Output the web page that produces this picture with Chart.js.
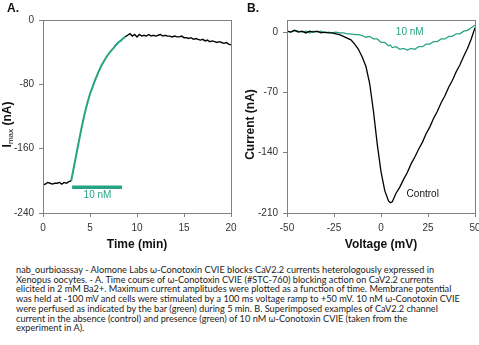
<!DOCTYPE html>
<html>
<head>
<meta charset="utf-8">
<script src="https://cdn.jsdelivr.net/npm/chart.js@4/dist/chart.umd.min.js"></script>
<style>
  html, body { margin: 0; padding: 0; background: #fff; width: 479px; height: 345px; overflow: hidden; }
  #wrapA { position: absolute; left: 0; top: 0; width: 240px; height: 260px; }
  #wrapB { position: absolute; left: 240px; top: 0; width: 239px; height: 260px; }
  #caption { position: absolute; left: 16px; top: 265px; font-family: Lato, "Open Sans", sans-serif;
             font-size: 9.2px; line-height: 9.7px; color: #222; white-space: nowrap; }
</style>
</head>
<body>
<div id="wrapA"><canvas id="chartA" width="240" height="260"></canvas></div>
<div id="wrapB"><canvas id="chartB" width="239" height="260"></canvas></div>
<div id="caption">
  <div>nab_ourbioassay - Alomone Labs ω-Conotoxin CVIE blocks CaV2.2 currents heterologously expressed in</div>
  <div>Xenopus oocytes. - A. Time course of ω-Conotoxin CVIE (#STC-760) blocking action on CaV2.2 currents</div>
  <div>elicited in 2 mM Ba2+. Maximum current amplitudes were plotted as a function of time. Membrane potential</div>
  <div>was held at -100 mV and cells were stimulated by a 100 ms voltage ramp to +50 mV. 10 nM ω-Conotoxin CVIE</div>
  <div>were perfused as indicated by the bar (green) during 5 min. B. Superimposed examples of CaV2.2 channel</div>
  <div>current in the absence (control) and presence (green) of 10 nM ω-Conotoxin CVIE (taken from the</div>
  <div>experiment in A).</div>
</div>
<script>
// ---- Panel A: time course of Imax (min, nA) ----
const baselineTime = [0, 0.25, 0.5, 0.75, 1.0, 1.25, 1.5, 1.75, 2.0, 2.25, 2.5, 2.75, 3.0];
const baselineImax = [-205, -204, -202, -203, -204, -203, -203, -202, -204, -202, -203, -201, -200];

const toxinTime = [3.0, 3.25, 3.5, 3.75, 4.0, 4.25, 4.5, 4.75, 5.0, 5.25, 5.5, 5.75, 6.0, 6.25,
                   6.5, 6.75, 7.0, 7.25, 7.5, 7.75, 8.0, 8.25, 8.5, 8.75];
const toxinImax = [-200, -185, -170, -155, -140, -126, -113, -102, -92, -84, -76, -69, -62, -56,
                   -51, -46, -42, -38, -35, -31, -28, -26, -23, -21];

const washTime = [8.75, 9.0, 9.25, 9.5, 9.75, 10.0, 10.25, 10.5, 10.75, 11.0, 11.25, 11.5, 11.75,
                  12.0, 12.25, 12.5, 12.75, 13.0, 13.25, 13.5, 13.75, 14.0, 14.25, 14.5, 14.75,
                  15.0, 15.25, 15.5, 15.75, 16.0, 16.25, 16.5, 16.75, 17.0, 17.25, 17.5, 17.75,
                  18.0, 18.25, 18.5, 18.75, 19.0, 19.25, 19.5, 19.75, 20.0];
const washImax = [-21, -19, -17, -20, -18, -21, -18, -20, -19, -20, -18, -20, -19,
                  -20, -19, -18, -20, -19, -20, -20, -21, -20, -21, -21, -20,
                  -22, -22, -23, -22, -24, -23, -24, -25, -24, -26, -25, -27,
                  -26, -27, -28, -27, -28, -29, -28, -30, -31];

// application bar: 10 nM during 5 min
const barTime = [3.1, 8.4];
const barLevel = [-208, -208];

const timeTicks = [0, 5, 10, 15, 20];
const imaxTicks = [-240, -160, -80, 0];

// ---- Panel B: ramp currents (mV, nA) ----
const voltage = [-50, -48, -46, -44, -42, -40, -38, -36, -34, -32, -30, -28, -26, -24, -22, -20,
                 -18, -16, -14, -12, -10, -8, -6, -4, -2, 0, 2, 4, 5, 6, 8, 10, 12, 14, 16, 18,
                 20, 22, 24, 26, 28, 30, 32, 34, 36, 38, 40, 42, 44, 46, 48, 50];
const controlCurrent = [1, 0, 2, 0, 1, -1, 1, 0, 1, -1, 0, -1, -1, -2, -3, -5,
                        -7, -9, -14, -20, -29, -40, -60, -92, -130, -162, -184, -196, -198, -197, -187, -180, -171, -163, -153, -145,
                        -136, -128, -118, -110, -100, -92, -82, -74, -64, -56, -46, -38, -28, -19, -8, 5];
const toxinCurrent = [1, 0, 2, 1, 0, 1, -1, 1, 0, 1, -1, 0, -1, 0, -1, -1,
                      -2, -2, -3, -3, -4, -6, -5, -8, -8, -12, -12, -16, -15, -18, -17, -20, -19, -21, -19, -20,
                      -17, -17, -14, -14, -11, -11, -8, -8, -5, -5, -2, -2, 1, 2, 5, 8];

const voltageTicks = [-50, -25, 0, 25, 50];
const currentTicks = [-210, -140, -70, 0];

const GREEN = '#26a383';
const AXIS = '#808080';
const TICK_FONT = { family: '"Liberation Sans Narrow", "Liberation Sans", Arial, sans-serif', size: 10 };

const pts = (xs, ys) => xs.map((x, i) => ({ x, y: ys[i] }));

// frame around the plotting area plus panel letter, axis titles and text labels
const decorations = {
  id: 'decorations',
  afterDraw(chart, args, opts) {
    const { ctx, chartArea: a, scales } = chart;
    ctx.save();
    ctx.strokeStyle = AXIS;
    ctx.lineWidth = 1;
    ctx.strokeRect(Math.round(a.left) + 0.5, Math.round(a.top) + 0.5,
                   Math.round(a.right - a.left), Math.round(a.bottom - a.top));

    ctx.fillStyle = '#111';
    ctx.font = 'bold 12px "Liberation Sans", Arial, sans-serif';
    ctx.textAlign = 'left';
    ctx.textBaseline = 'middle';
    ctx.fillText(opts.panel, opts.panelX, 9);

    ctx.textAlign = 'center';
    ctx.fillText(opts.xTitle, (a.left + a.right) / 2, 245);

    // rotated y title, with optional subscript
    ctx.save();
    ctx.translate(opts.yTitleX, 124.5);
    ctx.rotate(-Math.PI / 2);
    const parts = opts.yTitle;
    const widths = parts.map(p => { ctx.font = p.font; return ctx.measureText(p.text).width; });
    let x = -widths.reduce((s, w) => s + w, 0) / 2;
    ctx.textAlign = 'left';
    parts.forEach((p, i) => {
      ctx.font = p.font;
      ctx.fillText(p.text, x, p.dy || 0);
      x += widths[i];
    });
    ctx.restore();

    ctx.font = '10px "Liberation Sans Narrow", "Liberation Sans", Arial, sans-serif';
    ctx.textAlign = 'center';
    opts.labels.forEach(l => {
      ctx.fillStyle = l.color;
      ctx.fillText(l.text, scales.x.getPixelForValue(l.x), scales.y.getPixelForValue(l.y));
    });
    ctx.restore();
  }
};

function axis(min, max, ticks, fit) {
  return {
    type: 'linear', min, max,
    afterBuildTicks: s => { s.ticks = ticks.map(v => ({ value: v })); },
    afterFit: fit,
    grid: { drawOnChartArea: false, drawTicks: true, tickLength: 4, color: AXIS },
    border: { display: true, color: AXIS, width: 1 },
    ticks: { font: TICK_FONT, color: '#333', padding: 5, maxRotation: 0, autoSkip: false },
    title: { display: false }
  };
}

function trace(data, color, width) {
  return { data, showLine: true, borderColor: color, borderWidth: width,
           pointRadius: 0, tension: 0, fill: false };
}

// bottom axis: fixed height, and let the last tick label run past the plot edge
const fitBottom = s => { s.height = 47; s.paddingLeft = 0; s.paddingRight = 0; };

Chart.register(decorations);

new Chart(document.getElementById('chartA'), {
  type: 'scatter',
  data: {
    datasets: [
      trace(pts(baselineTime, baselineImax), '#000', 1.4),
      trace(pts(toxinTime, toxinImax), GREEN, 2),
      trace(pts(washTime, washImax), '#000', 1.4),
      trace(pts(barTime, barLevel), GREEN, 3.5)
    ]
  },
  options: {
    responsive: false, animation: false,
    layout: { padding: { top: 20, right: 9, left: 0, bottom: 0 } },
    plugins: {
      legend: { display: false }, tooltip: { enabled: false },
      decorations: {
        panel: 'A.', panelX: 7, xTitle: 'Time (min)', yTitleX: 8,
        yTitle: [
          { text: 'I', font: 'bold 12px "Liberation Sans", Arial, sans-serif' },
          { text: 'max', font: '8px "Liberation Sans Narrow", "Liberation Sans", Arial, sans-serif', dy: 3 },
          { text: ' (nA)', font: 'bold 12px "Liberation Sans", Arial, sans-serif' }
        ],
        labels: [{ text: '10 nM', x: 5.8, y: -218, color: GREEN }]
      }
    },
    scales: {
      x: axis(0, 20, timeTicks, fitBottom),
      y: axis(-240, 0, imaxTicks, s => { s.width = 43; })
    }
  }
});

new Chart(document.getElementById('chartB'), {
  type: 'scatter',
  data: {
    datasets: [
      trace(pts(voltage, controlCurrent), '#000', 1.3),
      trace(pts(voltage, toxinCurrent), GREEN, 1.3)
    ]
  },
  options: {
    responsive: false, animation: false,
    layout: { padding: { top: 20, right: 4, left: 0, bottom: 0 } },
    plugins: {
      legend: { display: false }, tooltip: { enabled: false },
      decorations: {
        panel: 'B.', panelX: 7, xTitle: 'Voltage (mV)', yTitleX: 11,
        yTitle: [{ text: 'Current (nA)', font: 'bold 12px "Liberation Sans", Arial, sans-serif' }],
        labels: [
          { text: '10 nM', x: 15.3, y: 0, color: GREEN },
          { text: 'Control', x: 22.2, y: -188, color: '#111' }
        ]
      }
    },
    scales: {
      x: axis(-50, 50, voltageTicks, fitBottom),
      y: axis(-210, 14, currentTicks, s => { s.width = 47; })
    }
  }
});
</script>
</body>
</html>
